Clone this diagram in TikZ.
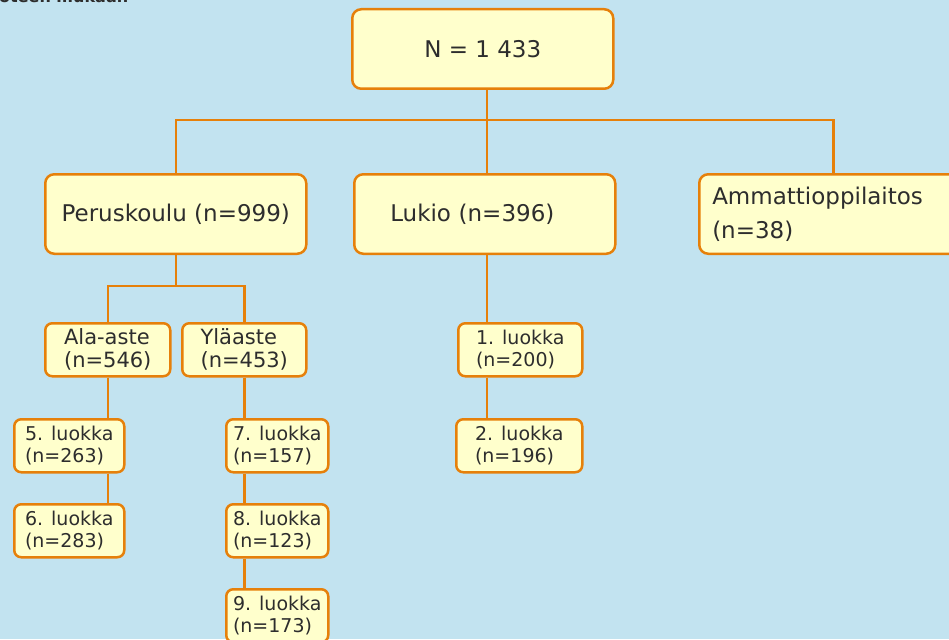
\documentclass[tikz,border=0pt]{standalone}
\usepackage{fontspec}
\setmainfont{DejaVu Sans}
\usepackage{tikz}
\usepackage{xcolor}
\definecolor{tausta}{RGB}{194,227,240}
\definecolor{oranssi}{RGB}{230,128,10}
\definecolor{keltainen}{RGB}{255,255,204}
\definecolor{teksti}{RGB}{45,45,45}

\begin{document}
\begin{tikzpicture}[x=1pt,y=-1pt,
  laatikko/.style={draw=oranssi,fill=keltainen,line width=2.5pt,anchor=north west,text=teksti,align=left,inner sep=0pt},
  iso/.style={laatikko,rounded corners=9pt,minimum width=261pt,minimum height=79.5pt,font=\fontsize{23}{34}\selectfont},
  pieni/.style={laatikko,rounded corners=7pt,minimum height=53pt,font=\fontsize{19}{21.5}\selectfont},
  viiva/.style={draw=oranssi,line width=2.5pt}]
\useasboundingbox (0,0) rectangle (949,639);
\fill [tausta] (0,0) rectangle (949,639);

\node [anchor=base west,inner sep=0pt,text=teksti,font=\fontsize{16}{16}\selectfont\bfseries] (otsikko) at (-1,3) {oteen mukaan};

\node [iso,align=center] (N) at (351,8) {N = 1 433};
\node [iso,align=center] (perus) at (44,173) {Peruskoulu (n=999)};
\node [iso,inner xsep=36pt,text width=189pt] (lukio) at (353,173) {Lukio (n=396)};
\node [iso,inner xsep=13pt,text width=242pt] (ammatti) at (698,173) {Ammattioppilaitos\\(n=38)};

\node [pieni,minimum width=125pt,font=\fontsize{21}{23}\selectfont] (ala) at (44,322) {Ala-aste\\(n=546)};
\node [pieni,minimum width=124pt,font=\fontsize{21}{23}\selectfont] (yla) at (181,322) {Yläaste\\(n=453)};

\node [pieni,minimum width=110pt] (luokka5) at (13,418) {5. luokka\\(n=263)};
\node [pieni,minimum width=110pt] (luokka6) at (13,503) {6. luokka\\(n=283)};
\node [pieni,minimum width=102pt] (luokka7) at (225,418) {7. luokka\\(n=157)};
\node [pieni,minimum width=102pt] (luokka8) at (225,503) {8. luokka\\(n=123)};
\node [pieni,minimum width=102pt] (luokka9) at (225,588) {9. luokka\\(n=173)};
\node [pieni,minimum width=124pt] (luokka1) at (457,322) {1. luokka\\(n=200)};
\node [pieni,minimum width=126pt] (luokka2) at (455,418) {2. luokka\\(n=196)};

\coordinate (haara) at (487,120);
\coordinate (haara2) at (176,286);

\draw [viiva] (N.south -| haara) -- (haara);
\draw [viiva] (perus.north) |- (haara) -| (ammatti.north);
\draw [viiva] (haara) -- (lukio.north -| haara);
\draw [viiva] (perus.south) -- (perus.south |- haara2);
\draw [viiva] (ala.north) |- (haara2) -| (yla.north);

\foreach \a/\b/\c in {ala/luokka5/ala, luokka5/luokka6/ala, yla/luokka7/yla, luokka7/luokka8/yla, luokka8/luokka9/yla, lukio/luokka1/haara, luokka1/luokka2/haara}
  \draw [viiva] (\a.south -| \c) -- (\b.north -| \c);

\end{tikzpicture}
\end{document}
